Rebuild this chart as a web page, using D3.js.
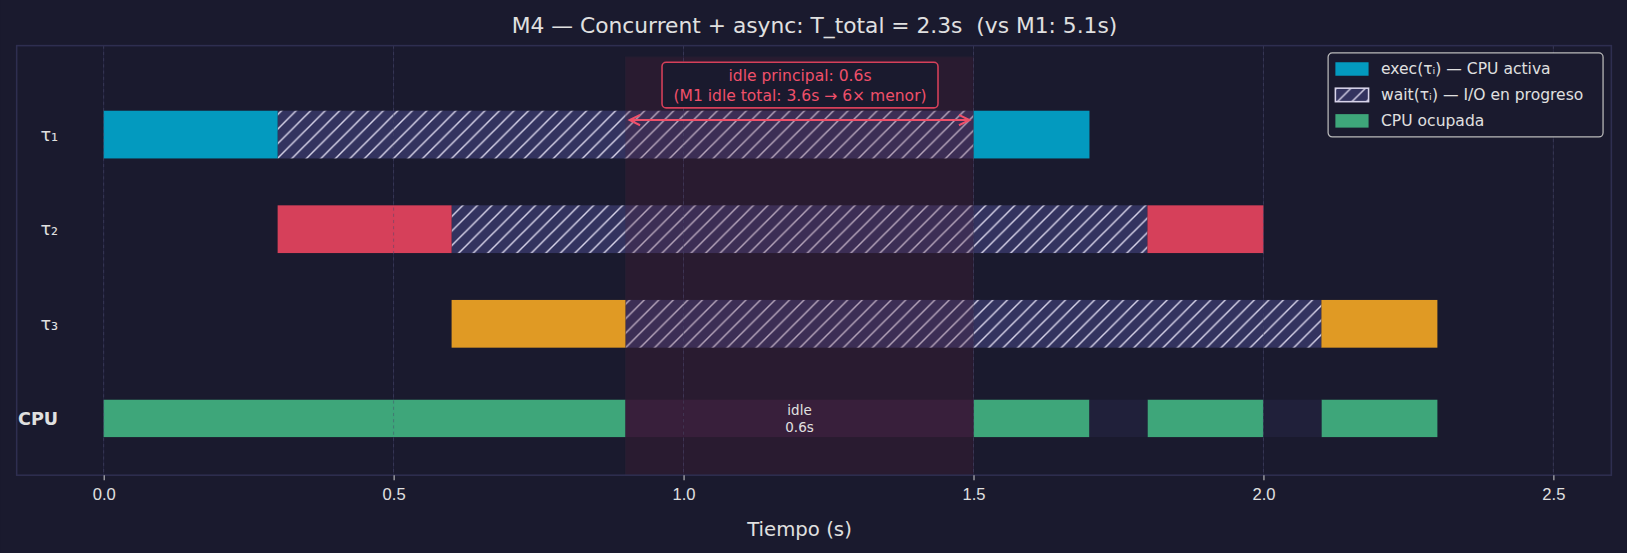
<!DOCTYPE html>
<html lang="es">
<head>
<meta charset="UTF-8">
<script src="https://d3js.org/d3.v7.min.js"></script>
<style>
  body { margin: 0; background: #1a1a2e; }
  svg { display: block; font-family: "DejaVu Sans", sans-serif; }
</style>
</head>
<body>
<svg width="1627" height="553" viewBox="0 0 1568 533"></svg>
<script>
// tareas y tramos
const rows = ["τ₁", "τ₂", "τ₃", "CPU"];
const taskColors = ["#039abf", "#d6405a", "#e09a24"];
const execSegs = [
  [0, 0, 0.3], [0, 1.5, 1.7],
  [1, 0.3, 0.6], [1, 1.8, 2.0],
  [2, 0.6, 0.9], [2, 2.1, 2.3]
];
const waitSegs = [[0, 0.3, 1.5], [1, 0.6, 1.8], [2, 0.9, 2.1]];
const cpuBusy = [[0, 0.9], [1.5, 1.7], [1.8, 2.0], [2.1, 2.3]];
const cpuGaps = [[1.7, 1.8], [2.0, 2.1]];
const idleMain = [0.9, 1.5];
const xTicks = [0, 0.5, 1.0, 1.5, 2.0, 2.5];

const svg = d3.select("svg");
const L = 16, R = 1553, T = 44, B = 458;
const x = d3.scaleLinear().domain([-0.15, 2.6]).range([L, R]);
const y = d3.scaleLinear().domain([-0.94, 3.6]).range([T, B]);

svg.append("rect").attr("width", 1568).attr("height", 533).attr("fill", "#1a1a2e");

const defs = svg.append("defs");
const pat = defs.append("pattern").attr("id", "hatch").attr("patternUnits", "userSpaceOnUse")
  .attr("width", 14).attr("height", 14);
pat.append("rect").attr("width", 14).attr("height", 14).attr("fill", "#33335f");
pat.append("path").attr("d", "M-3.5,3.5 L3.5,-3.5 M0,14 L14,0 M10.5,17.5 L17.5,10.5")
  .attr("stroke", "#d8d4ea").attr("stroke-width", 1.4);
defs.append("clipPath").attr("id", "plot").append("rect")
  .attr("x", L).attr("y", T).attr("width", R - L).attr("height", B - T);

const g = svg.append("g").attr("clip-path", "url(#plot)");

// grid
g.selectAll(".grid").data(xTicks).join("line")
  .attr("x1", d => x(d)).attr("x2", d => x(d)).attr("y1", T).attr("y2", B)
  .attr("stroke", "#2c2c48").attr("stroke-width", 0.8);

const th = 46, ch = 36;
g.selectAll(".wait").data(waitSegs).join("rect")
  .attr("x", d => x(d[1])).attr("width", d => x(d[2]) - x(d[1]))
  .attr("y", d => y(d[0]) - th / 2).attr("height", th).attr("fill", "url(#hatch)");
g.selectAll(".exec").data(execSegs).join("rect")
  .attr("x", d => x(d[1])).attr("width", d => x(d[2]) - x(d[1]))
  .attr("y", d => y(d[0]) - th / 2).attr("height", th).attr("fill", d => taskColors[d[0]]);

const cy = y(3);
g.selectAll(".busy").data(cpuBusy).join("rect")
  .attr("x", d => x(d[0])).attr("width", d => x(d[1]) - x(d[0]))
  .attr("y", cy - ch / 2).attr("height", ch).attr("fill", "#3ea67a");
g.selectAll(".gap").data(cpuGaps).join("rect")
  .attr("x", d => x(d[0])).attr("width", d => x(d[1]) - x(d[0]))
  .attr("y", cy - ch / 2).attr("height", ch).attr("fill", "#20203a");
g.append("rect").attr("x", x(idleMain[0])).attr("width", x(idleMain[1]) - x(idleMain[0]))
  .attr("y", cy - ch / 2).attr("height", ch).attr("fill", "#2e1f3c");

// sombreado idle principal
g.append("rect").attr("x", x(idleMain[0])).attr("width", x(idleMain[1]) - x(idleMain[0]))
  .attr("y", T + 11).attr("height", B - T - 11).attr("fill", "#5a2038").attr("opacity", 0.25)
  .attr("stroke", "#4a2a40").attr("stroke-width", 1);

g.append("text").attr("x", x(1.2)).attr("y", cy - 3).attr("text-anchor", "middle")
  .attr("fill", "#e0e0e0").attr("font-size", 13).text("idle");
g.append("text").attr("x", x(1.2)).attr("y", cy + 13).attr("text-anchor", "middle")
  .attr("fill", "#e0e0e0").attr("font-size", 13).text("0.6s");

// líneas discontinuas sobre barras
g.selectAll(".dash").data(xTicks).join("line")
  .attr("x1", d => x(d)).attr("x2", d => x(d)).attr("y1", T).attr("y2", B)
  .attr("stroke", "#4a4a6a").attr("stroke-width", 0.8).attr("stroke-dasharray", "3,3").attr("opacity", 0.6);

// flecha
const ay = y(0) - 14;
const ac = "#f0506a";
g.append("line").attr("x1", x(0.9) + 6).attr("x2", x(1.5) - 6).attr("y1", ay).attr("y2", ay)
  .attr("stroke", ac).attr("stroke-width", 2);
[[x(0.9) + 4, 1], [x(1.5) - 4, -1]].forEach(([px, s]) => {
  g.append("path").attr("d", `M${px + 10 * s},${ay - 5} L${px},${ay} L${px + 10 * s},${ay + 5}`)
    .attr("fill", "none").attr("stroke", ac).attr("stroke-width", 2);
});
svg.append("rect").attr("x", 638).attr("y", 60).attr("width", 266).attr("height", 44).attr("rx", 4)
  .attr("fill", "#1a1a2e").attr("stroke", "#d6405a").attr("stroke-width", 1.5);
svg.append("text").attr("x", 771).attr("y", 78).attr("text-anchor", "middle").attr("fill", ac)
  .attr("font-size", 15).text("idle principal: 0.6s");
svg.append("text").attr("x", 771).attr("y", 97).attr("text-anchor", "middle").attr("fill", ac)
  .attr("font-size", 15).text("(M1 idle total: 3.6s → 6× menor)");

// marco
svg.append("rect").attr("x", L).attr("y", T).attr("width", R - L).attr("height", B - T)
  .attr("fill", "none").attr("stroke", "#2e2e50").attr("stroke-width", 1.5);

// eje x
const ax = svg.append("g").attr("transform", `translate(0,${B})`)
  .call(d3.axisBottom(x).tickValues(xTicks).tickFormat(d3.format(".1f")).tickSize(5).tickPadding(8));
ax.select(".domain").remove();
ax.selectAll("line").attr("stroke", "#cccccc");
ax.selectAll("text").attr("fill", "#e0e0e0").attr("font-size", 16);
svg.append("text").attr("x", (L + R) / 2 - 14).attr("y", 517).attr("text-anchor", "middle")
  .attr("fill", "#e0e0e0").attr("font-size", 19).text("Tiempo (s)");

// etiquetas de filas
svg.selectAll(".rl").data(rows).join("text")
  .attr("x", (d, i) => i === 3 ? 56 : 56).attr("y", (d, i) => y(i) + 6).attr("text-anchor", "end")
  .attr("fill", "#e0e0e0").attr("font-size", 17).attr("font-weight", (d, i) => i === 3 ? "bold" : "normal")
  .text(d => d);

// título
svg.append("text").attr("x", 785).attr("y", 32).attr("text-anchor", "middle")
  .attr("fill", "#e0e0e0").attr("font-size", 21).attr("xml:space", "preserve")
  .text("M4 — Concurrent + async: T_total = 2.3s  (vs M1: 5.1s)");

// leyenda
const lg = svg.append("g").attr("transform", "translate(1280,51)");
lg.append("rect").attr("width", 265).attr("height", 81).attr("rx", 4)
  .attr("fill", "#1a1a2e").attr("stroke", "#bbbbbb").attr("stroke-width", 1.2);
const legItems = [["exec(τᵢ) — CPU activa", "#039abf"], ["wait(τᵢ) — I/O en progreso", "url(#hatch)"], ["CPU ocupada", "#3ea67a"]];
legItems.forEach(([t, c], i) => {
  lg.append("rect").attr("x", 7).attr("y", 9 + i * 25).attr("width", 32).attr("height", 13)
    .attr("fill", c).attr("stroke", i === 1 ? "#d8d4ea" : "none").attr("stroke-width", 1.5);
  lg.append("text").attr("x", 51).attr("y", 20 + i * 25).attr("fill", "#e0e0e0")
    .attr("font-size", 15).text(t);
});
</script>
</body>
</html>
